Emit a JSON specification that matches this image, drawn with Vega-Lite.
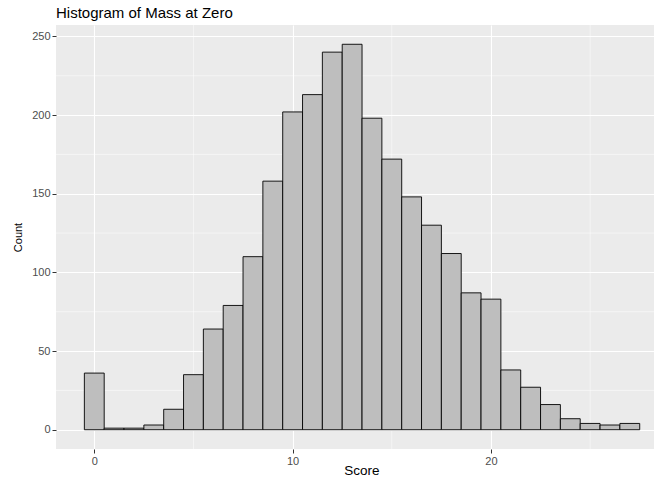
{
  "$schema": "https://vega.github.io/schema/vega-lite/v6.json",
  "autosize": "none",
  "width": 598,
  "height": 424,
  "padding": {"left": 56, "top": 25, "right": 0, "bottom": 28},
  "background": "white",
  "title": {
    "text": "Histogram of Mass at Zero",
    "anchor": "start",
    "frame": "group",
    "font": "Liberation Sans",
    "fontSize": 15,
    "fontWeight": "normal",
    "color": "black",
    "offset": 4
  },
  "config": {
    "view": {"fill": "#EBEBEB", "stroke": null},
    "axis": {
      "domain": false,
      "grid": true,
      "gridColor": "white",
      "gridWidth": 1.1,
      "tickColor": "#333333",
      "tickSize": 4,
      "tickWidth": 1,
      "labelFont": "Liberation Sans",
      "labelFontSize": 11,
      "labelColor": "#4D4D4D",
      "labelPadding": 2,
      "titleFont": "Liberation Sans",
      "titleFontWeight": "normal",
      "titleColor": "black"
    }
  },
  "layer": [
    {
      "data": {"values": [{"v": 5}, {"v": 15}, {"v": 25}]},
      "mark": {"type": "rule", "color": "white", "strokeWidth": 0.5},
      "encoding": {
        "x": {"field": "v", "type": "quantitative", "scale": {"domain": [-1.93, 28.22], "nice": false, "zero": false}}
      }
    },
    {
      "data": {"values": [{"v": 25}, {"v": 75}, {"v": 125}, {"v": 175}, {"v": 225}]},
      "mark": {"type": "rule", "color": "white", "strokeWidth": 0.5},
      "encoding": {
        "y": {"field": "v", "type": "quantitative", "scale": {"domain": [-12.25, 257.25], "nice": false, "zero": false}}
      }
    },
    {
      "data": {
        "values": [
          {"bin_start": -0.5, "bin_end": 0.5, "count": 36},
          {"bin_start": 0.5, "bin_end": 1.5, "count": 1},
          {"bin_start": 1.5, "bin_end": 2.5, "count": 1},
          {"bin_start": 2.5, "bin_end": 3.5, "count": 3},
          {"bin_start": 3.5, "bin_end": 4.5, "count": 13},
          {"bin_start": 4.5, "bin_end": 5.5, "count": 35},
          {"bin_start": 5.5, "bin_end": 6.5, "count": 64},
          {"bin_start": 6.5, "bin_end": 7.5, "count": 79},
          {"bin_start": 7.5, "bin_end": 8.5, "count": 110},
          {"bin_start": 8.5, "bin_end": 9.5, "count": 158},
          {"bin_start": 9.5, "bin_end": 10.5, "count": 202},
          {"bin_start": 10.5, "bin_end": 11.5, "count": 213},
          {"bin_start": 11.5, "bin_end": 12.5, "count": 240},
          {"bin_start": 12.5, "bin_end": 13.5, "count": 245},
          {"bin_start": 13.5, "bin_end": 14.5, "count": 198},
          {"bin_start": 14.5, "bin_end": 15.5, "count": 172},
          {"bin_start": 15.5, "bin_end": 16.5, "count": 148},
          {"bin_start": 16.5, "bin_end": 17.5, "count": 130},
          {"bin_start": 17.5, "bin_end": 18.5, "count": 112},
          {"bin_start": 18.5, "bin_end": 19.5, "count": 87},
          {"bin_start": 19.5, "bin_end": 20.5, "count": 83},
          {"bin_start": 20.5, "bin_end": 21.5, "count": 38},
          {"bin_start": 21.5, "bin_end": 22.5, "count": 27},
          {"bin_start": 22.5, "bin_end": 23.5, "count": 16},
          {"bin_start": 23.5, "bin_end": 24.5, "count": 7},
          {"bin_start": 24.5, "bin_end": 25.5, "count": 4},
          {"bin_start": 25.5, "bin_end": 26.5, "count": 3},
          {"bin_start": 26.5, "bin_end": 27.5, "count": 4}
        ]
      },
      "mark": {"type": "rect", "fill": "#BEBEBE", "stroke": "black", "strokeWidth": 0.9},
      "encoding": {
        "x": {
          "field": "bin_start",
          "type": "quantitative",
          "scale": {"domain": [-1.93, 28.22], "nice": false, "zero": false},
          "axis": {"values": [0, 10, 20], "title": "Score", "titleFontSize": 13.5, "titleBaseline": "alphabetic", "titleX": 305.5, "titleY": 25}
        },
        "x2": {"field": "bin_end"},
        "y": {
          "field": "count",
          "type": "quantitative",
          "scale": {"domain": [-12.25, 257.25], "nice": false, "zero": false},
          "axis": {"values": [0, 50, 100, 150, 200, 250], "title": "Count", "titleFontSize": 11, "titlePadding": 8}
        },
        "y2": {"datum": 0}
      }
    }
  ]
}
